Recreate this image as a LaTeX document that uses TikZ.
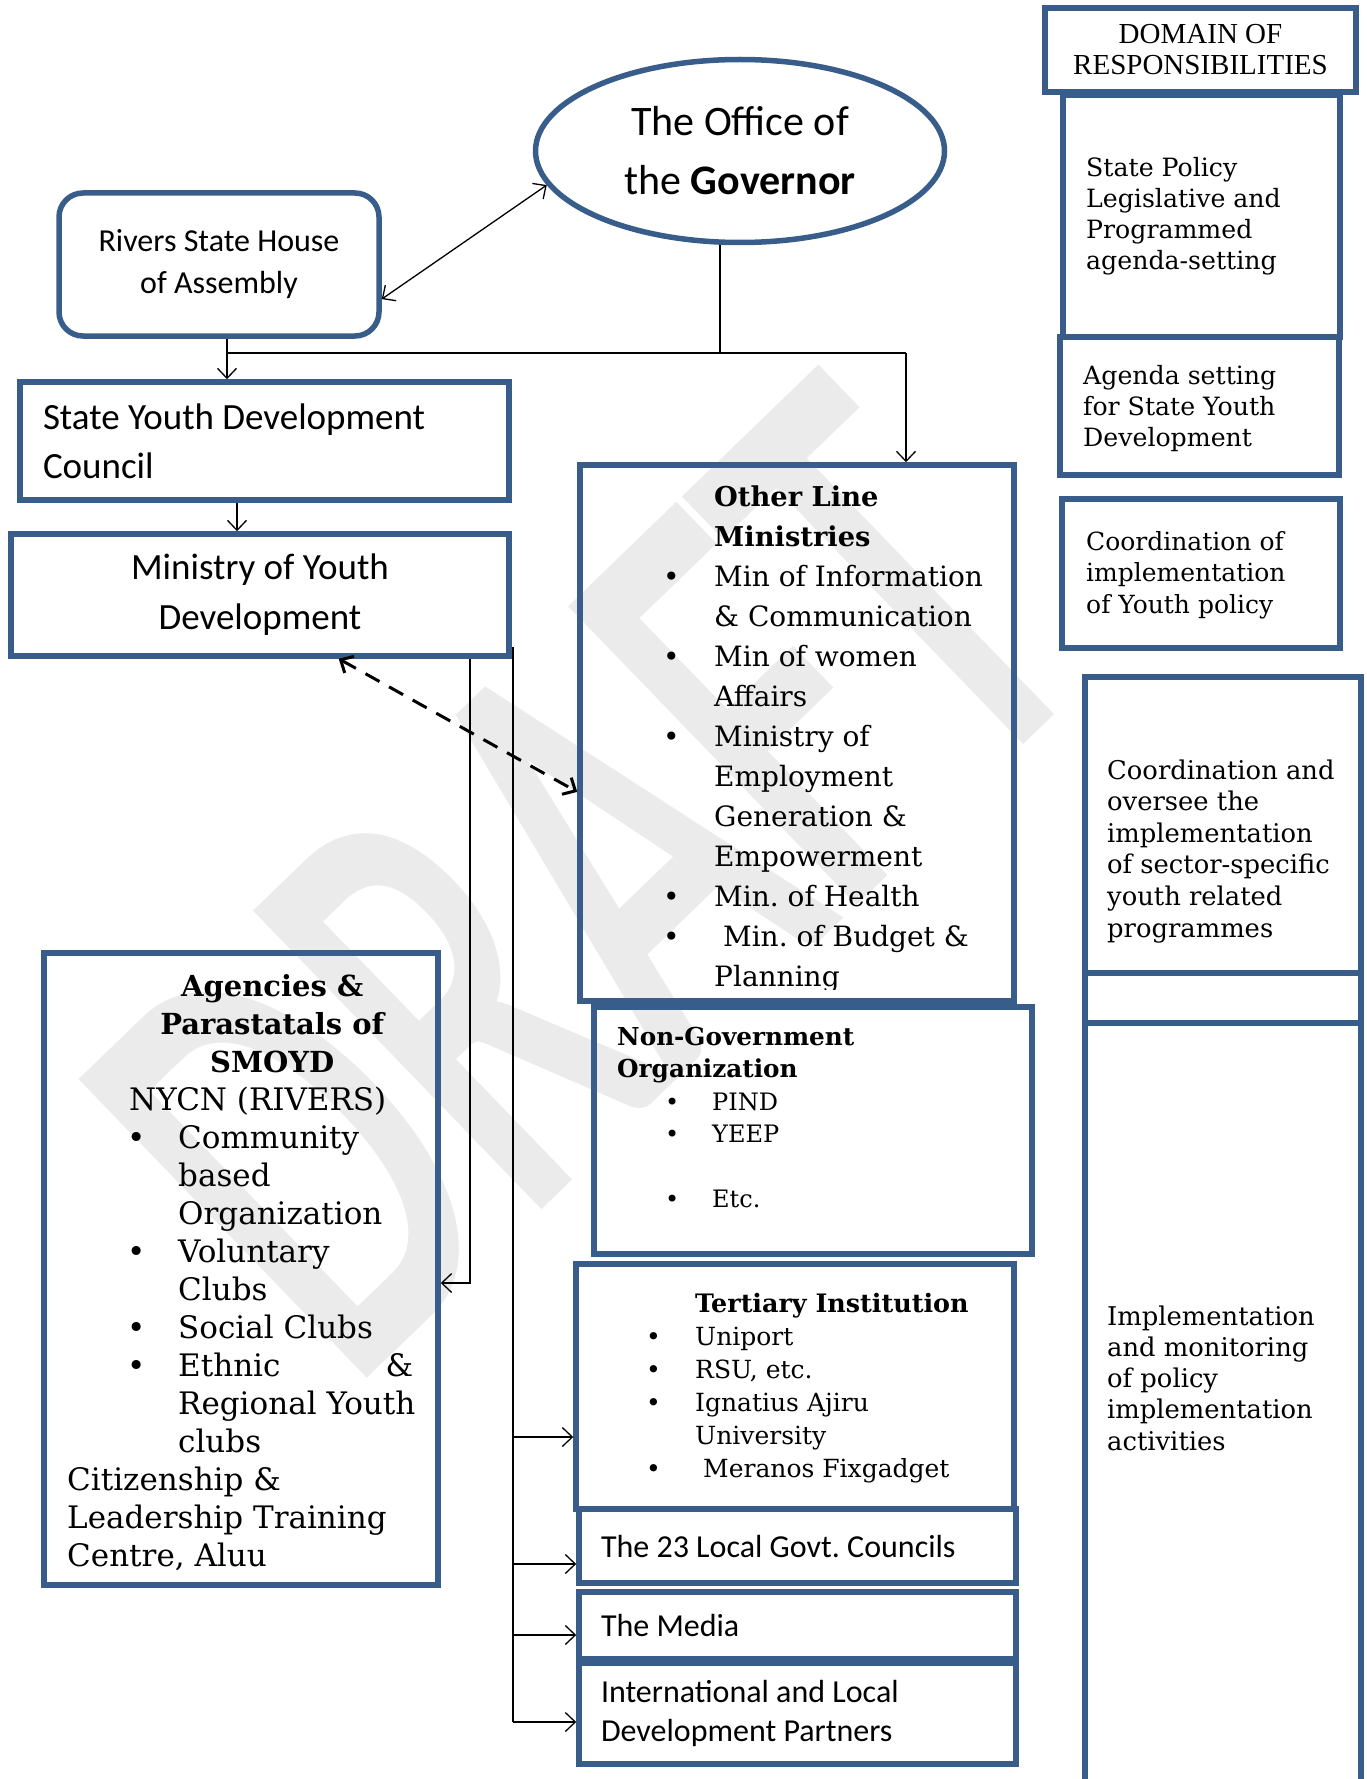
\documentclass[tikz,border=0pt]{standalone}
\usepackage{fontspec}
\setmainfont{DejaVu Serif}
\newfontfamily\calib{Carlito}
\newfontfamily\wmfont[FakeBold=2]{Carlito}
\newfontfamily\timesrm{Liberation Serif}
\usetikzlibrary{shapes.geometric,arrows.meta,calc}
\definecolor{boxblue}{RGB}{56,93,138}
\newcommand\bhead[2]{{\fontsize{#1}{#1}\selectfont\bfseries #2}}
\frenchspacing

\tikzset{
  box/.style={draw=boxblue, line width=5.5pt, inner sep=0pt},
  link/.style={line width=1.3pt},
  list/.style={anchor=base west, inner sep=0pt},
  >={Straight Barb[length=10pt,width=19pt]}
}

\begin{document}
\begin{tikzpicture}[x=1pt,y=-1pt]
\useasboundingbox (0,0) rectangle (1367,1779);

% watermark
\node[anchor=base west, inner sep=0pt, rotate=44, yscale=1.6, text=gray!16,
  font=\wmfont\fontsize{392}{392}\selectfont] (draft) at (346,1389) {DRAFT};

% top of the chart
\node[box, ellipse, minimum width=409pt, minimum height=183pt, align=center,
  font=\calib\fontsize{42}{59}\selectfont] (gov) at (740,151) {The Office of\\the \textbf{Governor}};
\node[box, rounded corners=24pt, minimum width=320pt, minimum height=143pt, align=center,
  font=\calib\fontsize{32}{42}\selectfont] (rivers) at (219,264.5) {Rivers State House\\of Assembly};
\node[box, minimum width=489pt, minimum height=118pt, text width=443pt, inner xsep=23pt, align=flush left,
  font=\calib\fontsize{37}{49}\selectfont] (sydc) at (264.5,441) {State Youth Development\\Council};
\node[box, minimum width=498pt, minimum height=122pt, align=center,
  font=\calib\fontsize{37}{50}\selectfont] (myd) at (260,595) {Ministry of Youth\\Development};

% boxes with lists
\node[box, minimum width=394pt, minimum height=632pt] (agency) at (241,1269) {};
\node[box, minimum width=434pt, minimum height=536pt] (olm) at (797,733) {};
\node[box, minimum width=438pt, minimum height=247pt] (ngo) at (813,1130.5) {};
\node[box, minimum width=438pt, minimum height=245pt] (tert) at (795,1386.5) {};
\node[box, minimum width=437pt, minimum height=74pt, text width=393pt, inner xsep=22pt, align=flush left,
  font=\calib\fontsize{32}{39}\selectfont] (lgc) at (797.5,1546) {The 23 Local Govt. Councils};
\node[box, minimum width=437pt, minimum height=67pt, text width=393pt, inner xsep=22pt, align=flush left,
  font=\calib\fontsize{32}{39}\selectfont] (media) at (797.5,1625.5) {The Media};
\node[box, minimum width=437pt, minimum height=101pt, text width=393pt, inner xsep=22pt, align=flush left,
  font=\calib\fontsize{32}{39}\selectfont] (partners) at (797.5,1713.5) {International and Local\\Development Partners};

\begin{scope}
  \clip (olm.north west) rectangle ([yshift=14pt]olm.south east);
  \node[list, font=\fontsize{28}{40}\selectfont] (olmtext) at (663,506) {\begin{tabular}[t]{@{}p{51pt}@{}l@{}}
     & \bhead{27.3}{Other Line}\\
     & \bhead{27.3}{Ministries}\\
    \textbullet & Min of Information\\
     & \& Communication\\
    \textbullet & Min of women\\
     & Affairs\\
    \textbullet & Ministry of\\
     & Employment\\
     & Generation \&\\
     & Empowerment\\
    \textbullet & Min. of Health\\
    \textbullet & \ Min. of Budget \&\\
     & Planning
  \end{tabular}};
\end{scope}

\node[list, font=\fontsize{31}{38}\selectfont] (agencytext) at (67,996) {\begin{tabular}[t]{@{}p{111pt}@{}l@{}}
  \multicolumn{2}{@{}l@{}}{\makebox[410pt]{\bhead{29}{Agencies \&}}}\\
  \multicolumn{2}{@{}l@{}}{\makebox[410pt]{\bhead{29}{Parastatals of}}}\\
  \multicolumn{2}{@{}l@{}}{\makebox[410pt]{\bhead{29}{SMOYD}}}\\
  \multicolumn{2}{@{}l@{}}{\hspace*{62pt}NYCN (RIVERS)}\\
  \hspace*{60pt}\textbullet & Community\\
   & based\\
   & Organization\\
  \hspace*{60pt}\textbullet & Voluntary\\
   & Clubs\\
  \hspace*{60pt}\textbullet & Social Clubs\\
  \hspace*{60pt}\textbullet & \makebox[235pt][l]{Ethnic\hfill\&}\\
   & Regional Youth\\
   & clubs\\
  \multicolumn{2}{@{}l@{}}{Citizenship \&}\\
  \multicolumn{2}{@{}l@{}}{Leadership Training}\\
  \multicolumn{2}{@{}l@{}}{Centre, Aluu}
\end{tabular}};

\node[list, font=\fontsize{24}{32.5}\selectfont] (ngotext) at (617,1045) {\begin{tabular}[t]{@{}p{95pt}@{}l@{}}
  \multicolumn{2}{@{}l@{}}{\bhead{24.7}{Non-Government}}\\
  \multicolumn{2}{@{}l@{}}{\bhead{24.7}{Organization}}\\
  \hspace*{48pt}\textbullet & PIND\\
  \hspace*{48pt}\textbullet & YEEP\\
   & \\
  \hspace*{48pt}\textbullet & Etc.
\end{tabular}};

\node[list, font=\fontsize{25}{33}\selectfont] (terttext) at (646,1312) {\begin{tabular}[t]{@{}p{49pt}@{}l@{}}
   & \bhead{25.4}{Tertiary Institution}\\
  \textbullet & Uniport\\
  \textbullet & RSU, etc.\\
  \textbullet & Ignatius Ajiru\\
   & University\\
  \textbullet & \ Meranos Fixgadget
\end{tabular}};

% domain of responsibilities
\node[box, minimum width=311pt, minimum height=84pt, align=center,
  font=\timesrm\fontsize{29}{31}\selectfont] (domain) at (1200.5,50) {DOMAIN OF\\RESPONSIBILITIES};
\node[box, minimum width=277pt, minimum height=242pt] (policy) at (1201.5,216) {};
\node[box, minimum width=279pt, minimum height=138pt] (agenda) at (1199.5,406) {};
\node[box, minimum width=278pt, minimum height=149pt] (coord) at (1201,573.5) {};
\node[box, minimum width=276pt, minimum height=296pt] (oversee) at (1223,825) {};
\node[box, minimum width=276pt, minimum height=50pt] (spacer) at (1223,998) {};
\node[box, minimum width=276pt, minimum height=800pt] (implement) at (1223,1423) {};

\node[list, font=\fontsize{25.2}{31}\selectfont] (policytext) at (1086,177)
  {\begin{tabular}[t]{@{}l@{}}State Policy\\Legislative and\\Programmed\\agenda-setting\end{tabular}};
\node[list, font=\fontsize{25.2}{31}\selectfont] (agendatext) at (1083,384)
  {\begin{tabular}[t]{@{}l@{}}Agenda setting\\for State Youth\\Development\end{tabular}};
\node[list, font=\fontsize{25}{31.5}\selectfont] (coordtext) at (1086,550)
  {\begin{tabular}[t]{@{}l@{}}Coordination of\\implementation\\of Youth policy\end{tabular}};
\node[list, font=\fontsize{25.8}{31.6}\selectfont] (overseetext) at (1107,779)
  {\begin{tabular}[t]{@{}l@{}}Coordination and\\oversee the\\implementation\\of sector-specific\\youth related\\programmes\end{tabular}};
\node[list, font=\fontsize{25.8}{31.3}\selectfont] (implementtext) at (1107,1325)
  {\begin{tabular}[t]{@{}l@{}}Implementation\\and monitoring\\of policy\\implementation\\activities\end{tabular}};

% connectors
\coordinate (hub) at (720,353);
\coordinate (spl) at (227,353);
\coordinate (spr) at (906,353);
\draw[link] (gov.south -| hub) -- (hub);
\draw[link] (spl) -- (spr);
\draw[link,->] (rivers.south -| spl) -- (sydc.north -| spl);
\draw[link,->] (spr) -- (olm.north -| spr);
\draw[link,->] ([xshift=-27.5pt]sydc.south) -- ([xshift=-27.5pt]sydc.south |- myd.north);
\draw[link,<->] (rivers.-12) -- (gov.190);
\draw[line width=3pt, dash pattern=on 16pt off 11pt, <->] (myd.-39) -- (olm.195);

\coordinate (lna) at (470,1283);
\draw[link,->] (myd.south -| lna) -- (lna) -- (lna -| agency.east);

\coordinate (lnb) at (513,647);
\draw[link] (lnb) -- ([yshift=-8.5pt]partners.west -| lnb);
\foreach \n/\s in {tert/50.5,lgc/18,media/9.5,partners/8.5}
  \draw[link,->] ([yshift=-\s*1pt]\n.west -| lnb) -- ([yshift=-\s*1pt]\n.west);

\end{tikzpicture}
\end{document}
